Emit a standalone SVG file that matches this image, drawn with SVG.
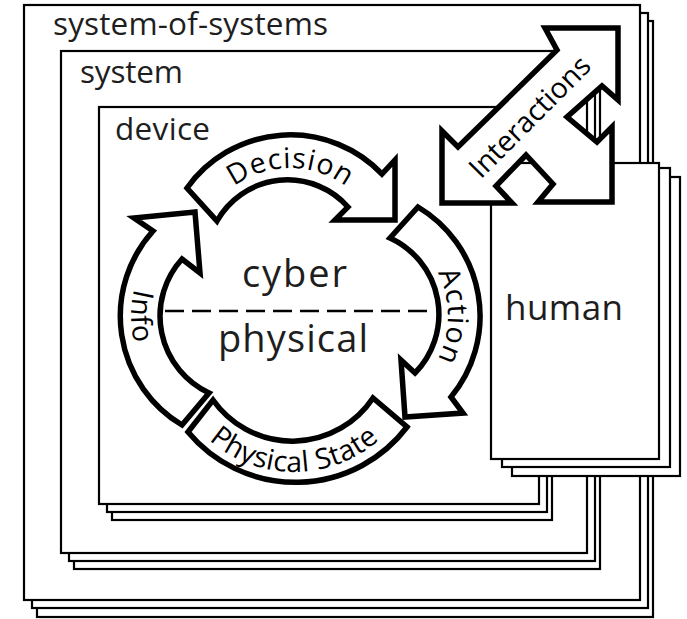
<svg xmlns="http://www.w3.org/2000/svg" width="687" height="619" viewBox="0 0 687 619">
<style>
.frame{fill:#fff;stroke:#000;stroke-width:2.2}
.arrow{fill:#fff;stroke:#000;stroke-width:5.5;stroke-linejoin:miter;stroke-miterlimit:10}
.big{font-family:"Open Sans","Noto Sans",sans-serif;fill:#1e1e1e}
.lbl{font-family:"Open Sans","Noto Sans",sans-serif;font-size:28.5px;fill:#000}
.dash{fill:none;stroke:#000;stroke-width:2.5;stroke-dasharray:19 8}
</style>
<defs>
<path id="pDecision" d="M 196,262 A 94 94 0 0 1 384,262"/>
<path id="pInfo" d="M 247,200 A 116 116 0 0 0 247,432"/>
<path id="pAction" d="M 353,221 A 95 95 0 0 1 353,411"/>
<path id="pPS" d="M 165,343 A 129 129 0 0 0 423,343"/>
</defs>

<g id="system-of-systems">
<rect class="frame" x="37" y="21" width="616" height="596"/>
<rect class="frame" x="32" y="13" width="616" height="595"/>
<rect class="frame" x="24" y="5" width="616" height="595"/>
<text class="big" x="53" y="35" font-size="31.5" textLength="275">system-of-systems</text>
</g>

<g id="system">
<rect class="frame" x="74" y="67" width="526" height="502"/>
<rect class="frame" x="69" y="59" width="526" height="502"/>
<rect class="frame" x="61" y="51" width="526" height="502"/>
<text class="big" x="80" y="83" font-size="31.5" textLength="103">system</text>
</g>

<g id="device">
<rect class="frame" x="112" y="123" width="440" height="397"/>
<rect class="frame" x="107" y="115" width="440" height="397"/>
<rect class="frame" x="99" y="107" width="440" height="397"/>
<text class="big" x="115" y="140" font-size="31.5" textLength="95">device</text>
</g>

<g id="human">
<rect class="frame" x="512" y="177" width="168" height="299"/>
<rect class="frame" x="502" y="168" width="168" height="299"/>
<rect class="frame" x="491" y="163" width="168" height="296"/>
<text class="big" x="505" y="320" font-size="35" textLength="118">human</text>
</g>

<g id="center-labels">
<text class="big" x="242" y="287" font-size="38" textLength="105">cyber</text>
<text class="big" x="218" y="352" font-size="38" textLength="150">physical</text>
</g>

<g id="connectors">
<line class="dash" x1="165" y1="311" x2="432" y2="311"/>

<g id="physical-state">
<path class="arrow" d="M 188,432 A 140 140 0 0 0 407,427 L 373,398 A 97 97 0 0 1 213,400 Z"/>
<text class="lbl"><textPath href="#pPS" startOffset="50%" text-anchor="middle" textLength="186">Physical State</textPath></text>
</g>

<g id="info">
<path class="arrow" d="M 182,425 A 127 127 0 0 1 153,231 L 134,218 L 195,212 L 200,273 L 182,259 A 85 85 0 0 0 209,393 Z"/>
<text class="lbl"><textPath href="#pInfo" startOffset="50%" text-anchor="middle" textLength="55">Info</textPath></text>
</g>

<g id="decision">
<path class="arrow" d="M 187,188 A 127 127 0 0 1 382,174 L 395,160 L 395,220 L 335,220 L 348,207 A 81 81 0 0 0 217,221 Z"/>
<text class="lbl"><textPath href="#pDecision" startOffset="50%" text-anchor="middle" textLength="120">Decision</textPath></text>
</g>

<g id="action">
<path class="arrow" d="M 418,207 A 127 127 0 0 1 451,397 L 463,413 L 405,417 L 401,360 L 415,373 A 84 84 0 0 0 390,238 Z"/>
<text class="lbl"><textPath href="#pAction" startOffset="50%" text-anchor="middle" textLength="90">Action</textPath></text>
</g>

<g id="interactions">
<path class="arrow" d="M 442,203 L 442,131 L 458,147 L 557,50 L 545,28 L 618,28 L 618,100 L 602,86 L 567,117 L 597,142 L 612,127 L 612,202 L 538,202 L 553,184 L 526,155 L 496,186 L 512,203 Z"/>
<text class="lbl" transform="translate(530,117) rotate(-45)" x="0" y="9.5" font-size="28" text-anchor="middle">Interactions</text>
</g>
</g>
</svg>
